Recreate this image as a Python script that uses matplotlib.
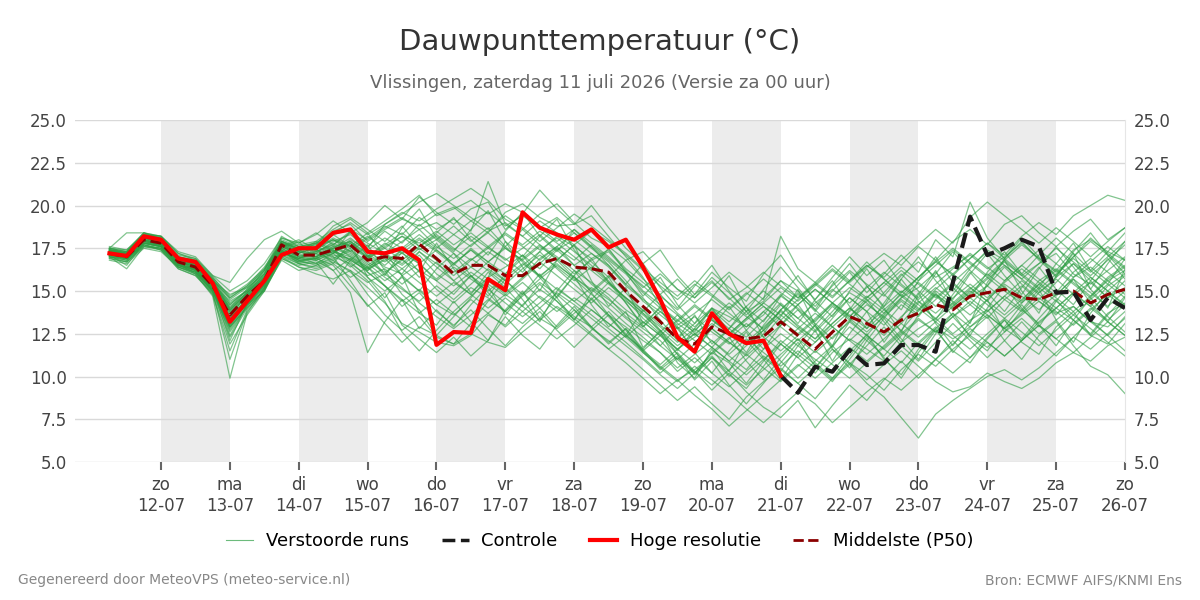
import numpy as np
import pandas as pd
import matplotlib
matplotlib.use("Agg")
import matplotlib.pyplot as plt
from matplotlib.lines import Line2D

# ----------------------------------------------------------------------
#  Data (dew point, deg C), 6-hourly from 11-07 06 UTC
# ----------------------------------------------------------------------
times = pd.date_range("2026-07-11 06:00", periods=60, freq="6h")

hres = [17.2, 17.05, 18.2, 18.0, 16.9, 16.7, 15.45, 13.2, 14.4, 15.6,
        17.1, 17.5, 17.5, 18.4, 18.6, 17.3, 17.2, 17.5, 16.8, 11.85,
        12.6, 12.55, 15.7, 15.05, 19.6, 18.7, 18.3, 18.0, 18.6, 17.55,
        18.0, 16.4, 14.5, 12.3, 11.45, 13.7, 12.5, 11.95, 12.1, 10.05]

controle = [10.05, 9.05, 10.57, 10.28, 11.55, 10.67, 10.77, 11.84, 11.84, 11.45,
            15.5, 19.35, 17.1, 17.5, 18.0, 17.6, 14.9, 14.96, 13.3, 14.6, 14.0]

p50 = [17.2, 17.0, 18.0, 17.8, 16.7, 16.4, 15.3, 13.6, 14.7, 15.6,
       17.7, 17.1, 17.1, 17.4, 17.7, 16.8, 17.0, 16.9, 17.75, 16.9,
       16.0, 16.5, 16.5, 15.9, 15.9, 16.6, 16.9, 16.4, 16.3, 16.1,
       15.0, 14.1, 13.2, 12.2, 11.9, 12.9, 12.5, 12.2, 12.35, 13.2,
       12.4, 11.6, 12.6, 13.5, 13.1, 12.6, 13.3, 13.7, 14.2, 13.9,
       14.7, 14.9, 15.1, 14.6, 14.5, 14.9, 15.0, 14.3, 14.8, 15.1]

members = [
    [17.4, 17.2, 18.3, 18.1, 17.0, 16.8, 15.6, 13.9, 14.9, 16.0,
     17.9, 17.6, 17.8, 18.5, 18.9, 17.9, 18.6, 19.2, 18.8, 19.5,
     19.9, 19.1, 18.4, 19.6, 20.1, 19.3, 18.8, 18.9, 19.4, 18.2,
     17.0, 15.8, 14.1, 13.3, 12.6, 14.0, 13.5, 12.9, 13.6, 14.8,
     13.9, 12.7, 13.8, 14.9, 14.3, 13.4, 14.6, 15.2, 16.1, 15.0,
     16.3, 17.4, 16.8, 15.9, 16.6, 17.2, 16.0, 15.4, 16.2, 17.0],
    [17.0, 16.3, 17.6, 17.5, 16.4, 16.0, 14.7, 9.9, 13.7, 15.2,
     17.4, 16.6, 16.4, 16.8, 16.1, 15.2, 14.3, 13.1, 12.6, 12.0,
     11.8, 12.4, 13.6, 13.0, 14.2, 15.1, 14.4, 13.5, 12.9, 13.8,
     12.7, 11.4, 10.6, 9.8, 10.4, 11.2, 10.1, 9.3, 10.6, 11.9,
     11.1, 10.2, 11.4, 12.2, 11.6, 10.9, 12.0, 12.8, 13.4, 12.5,
     13.3, 13.9, 12.8, 13.6, 14.4, 13.7, 14.1, 13.2, 12.9, 13.8],
    [17.3, 17.1, 18.1, 17.9, 16.9, 16.5, 15.5, 13.4, 14.6, 15.7,
     17.6, 17.3, 17.2, 17.9, 18.3, 17.5, 18.9, 19.6, 19.1, 19.8,
     20.4, 21.0, 20.3, 19.2, 18.6, 19.5, 20.1, 19.0, 18.1, 17.6,
     16.8, 17.3, 16.2, 15.1, 14.6, 15.8, 14.9, 13.8, 14.4, 15.6,
     15.0, 14.1, 15.3, 16.2, 15.4, 14.7, 15.9, 16.7, 15.8, 16.4,
     17.1, 16.3, 17.0, 17.8, 16.9, 16.2, 17.4, 18.0, 17.3, 16.8],
    [17.5, 17.3, 18.4, 18.0, 16.8, 16.2, 15.1, 12.8, 14.3, 15.3,
     17.3, 16.8, 16.9, 16.5, 15.3, 14.2, 13.1, 12.0, 12.9, 12.4,
     13.5, 14.6, 15.8, 16.4, 17.1, 16.3, 17.4, 18.0, 17.2, 16.5,
     15.4, 14.6, 13.3, 12.1, 11.5, 12.8, 12.0, 11.3, 12.5, 13.9,
     12.9, 12.2, 13.4, 14.6, 13.8, 13.0, 14.2, 13.5, 14.8, 14.0,
     14.6, 15.3, 14.5, 13.8, 14.9, 15.7, 14.8, 14.1, 15.3, 16.0],
    [17.1, 16.9, 17.9, 17.7, 16.6, 16.6, 15.4, 14.1, 14.9, 15.9,
     17.9, 17.4, 17.5, 18.1, 17.6, 16.9, 17.5, 18.2, 17.4, 18.0,
     17.2, 16.4, 17.3, 16.6, 15.8, 16.9, 17.6, 16.5, 15.4, 14.6,
     13.5, 12.8, 12.1, 11.0, 10.2, 11.4, 10.8, 9.6, 10.9, 12.1,
     11.3, 10.5, 11.8, 12.9, 12.1, 11.2, 12.4, 13.3, 12.6, 13.5,
     14.2, 13.4, 14.5, 15.3, 14.4, 13.6, 14.8, 15.5, 14.6, 15.2],
    [17.4, 17.1, 18.0, 17.6, 16.5, 16.1, 15.0, 13.2, 14.5, 15.5,
     17.5, 17.0, 16.8, 17.2, 17.9, 17.1, 16.4, 16.0, 17.3, 16.6,
     15.9, 16.8, 17.5, 16.9, 16.1, 17.3, 18.2, 17.6, 16.9, 17.4,
     16.3, 15.5, 14.7, 13.9, 14.8, 15.6, 14.5, 15.2, 16.1, 15.3,
     14.6, 15.4, 16.3, 15.5, 16.4, 17.2, 16.5, 17.6, 16.8, 17.9,
     18.6, 17.7, 18.9, 19.4, 18.4, 17.6, 18.5, 19.2, 18.0, 18.7],
    [17.0, 16.8, 17.8, 17.6, 16.5, 16.3, 15.2, 13.0, 14.4, 15.4,
     17.2, 16.9, 17.4, 17.0, 16.6, 15.9, 16.3, 15.4, 16.2, 15.1,
     14.3, 15.2, 14.6, 13.8, 14.7, 15.5, 14.8, 13.9, 12.8, 12.1,
     11.3, 10.4, 9.5, 8.6, 9.4, 8.4, 7.5, 8.8, 9.7, 10.5,
     9.6, 8.7, 9.9, 10.8, 10.1, 9.2, 10.4, 11.3, 10.6, 11.6,
     12.4, 11.7, 12.6, 13.4, 12.5, 13.3, 14.1, 13.2, 12.4, 13.5],
    [17.3, 17.2, 18.2, 18.0, 16.9, 16.7, 15.7, 14.3, 15.0, 16.2,
     18.1, 17.7, 17.9, 18.6, 19.2, 18.4, 19.1, 19.8, 20.6, 19.4,
     19.8, 20.3, 19.5, 20.1, 19.6, 18.7, 19.3, 18.4, 17.5, 16.7,
     15.6, 14.4, 13.6, 12.8, 13.5, 12.6, 11.9, 12.7, 13.8, 12.9,
     12.1, 13.0, 14.1, 13.3, 12.4, 13.6, 14.5, 13.8, 15.0, 14.2,
     15.1, 16.0, 15.2, 14.4, 15.6, 16.3, 15.5, 14.7, 15.8, 16.5],
    [17.2, 16.9, 17.7, 17.4, 16.3, 15.9, 14.9, 12.3, 14.0, 15.1,
     17.0, 16.4, 16.0, 15.7, 16.2, 14.8, 13.6, 12.7, 13.5, 12.3,
     11.9, 12.5, 12.0, 11.7, 12.6, 13.4, 12.8, 13.7, 14.5, 13.6,
     12.9, 12.1, 11.4, 10.5, 11.3, 12.1, 11.2, 10.4, 11.6, 12.5,
     11.8, 11.0, 10.3, 11.5, 12.4, 11.6, 10.8, 12.0, 12.9, 12.2,
     12.9, 13.6, 12.8, 12.1, 13.2, 14.0, 13.3, 12.5, 13.7, 14.3],
    [17.6, 17.4, 18.3, 18.2, 17.1, 16.9, 15.8, 14.6, 15.3, 16.4,
     17.8, 17.5, 17.3, 17.7, 18.4, 17.8, 17.2, 17.9, 18.6, 17.6,
     16.9, 17.7, 18.4, 17.5, 16.8, 17.6, 16.9, 16.0, 16.8, 17.3,
     16.2, 15.0, 14.2, 13.1, 12.4, 13.4, 14.3, 13.5, 12.8, 13.9,
     14.8, 13.9, 12.9, 13.8, 14.7, 13.9, 13.1, 14.3, 15.2, 14.4,
     13.6, 14.5, 15.4, 14.7, 13.9, 14.8, 15.7, 14.9, 14.1, 15.0],
    [17.1, 17.0, 17.9, 17.8, 16.8, 16.4, 15.3, 13.5, 14.2, 15.0,
     16.9, 16.5, 16.7, 15.4, 16.8, 16.2, 17.1, 16.5, 17.3, 16.4,
     15.6, 16.4, 15.7, 14.9, 15.8, 16.7, 15.9, 15.1, 14.3, 15.2,
     14.4, 13.6, 12.7, 11.8, 12.5, 13.3, 12.6, 11.9, 12.7, 13.6,
     12.8, 12.0, 13.1, 14.0, 13.2, 12.4, 13.5, 14.4, 13.7, 14.6,
     15.4, 14.6, 15.5, 16.3, 15.5, 14.7, 15.8, 16.4, 15.6, 16.2],
    [17.3, 17.1, 18.1, 17.9, 16.8, 16.5, 15.4, 13.8, 14.8, 15.8,
     17.7, 17.2, 17.6, 18.0, 17.3, 18.1, 18.8, 18.3, 19.3, 18.6,
     19.2, 18.5, 21.4, 18.9, 18.2, 19.1, 18.4, 17.7, 18.5, 17.9,
     17.1, 16.2, 15.3, 14.5, 15.4, 14.7, 13.9, 14.8, 15.7, 14.9,
     14.2, 15.1, 14.3, 13.5, 14.6, 15.5, 14.7, 13.9, 15.1, 16.0,
     15.2, 14.4, 15.6, 16.5, 15.7, 14.9, 16.1, 16.9, 16.1, 15.3],
    [16.9, 16.7, 17.6, 17.5, 16.4, 16.1, 15.0, 12.6, 14.1, 15.2,
     17.1, 16.7, 16.6, 17.1, 16.9, 16.3, 16.8, 17.2, 16.6, 17.4,
     16.6, 15.8, 16.7, 17.5, 16.8, 15.9, 16.6, 15.7, 14.8, 14.0,
     13.1, 12.3, 11.4, 10.3, 11.1, 10.2, 9.4, 10.3, 11.2, 10.4,
     9.6, 10.5, 11.6, 10.8, 9.8, 10.7, 11.5, 10.6, 9.7, 9.1,
     9.4, 10.2, 9.7, 9.3, 9.9, 10.8, 11.4, 10.9, 11.8, 12.3],
    [17.4, 17.2, 18.2, 17.9, 16.7, 16.4, 15.3, 13.7, 14.7, 15.7,
     17.8, 17.3, 17.0, 17.6, 17.9, 16.9, 17.6, 18.2, 17.8, 18.5,
     17.7, 18.4, 17.6, 16.8, 17.5, 18.3, 17.4, 16.5, 17.2, 16.4,
     15.3, 14.5, 13.8, 13.0, 13.7, 14.5, 13.7, 12.9, 13.8, 14.7,
     14.0, 13.2, 14.3, 15.2, 14.5, 13.7, 14.9, 15.8, 16.7, 16.0,
     16.9, 17.8, 17.1, 18.2, 19.0, 18.3, 19.4, 20.0, 20.6, 20.3],
    [17.2, 17.0, 18.0, 17.7, 16.6, 16.2, 15.1, 12.1, 14.3, 15.5,
     17.5, 17.0, 17.3, 17.8, 17.3, 16.6, 15.8, 15.1, 14.4, 15.3,
     14.5, 15.4, 16.3, 15.6, 14.8, 15.7, 16.5, 15.8, 15.1, 14.3,
     13.4, 12.6, 11.8, 11.0, 11.9, 12.8, 12.0, 11.2, 12.1, 13.0,
     13.9, 13.1, 12.2, 13.3, 14.2, 13.5, 12.7, 13.9, 14.8, 14.1,
     14.9, 15.8, 15.0, 14.3, 15.4, 16.2, 15.4, 14.6, 15.7, 16.4],
    [17.3, 17.0, 17.9, 17.7, 16.7, 16.3, 15.2, 13.3, 14.6, 15.6,
     17.6, 17.1, 17.2, 17.6, 17.2, 16.5, 17.2, 16.6, 17.5, 16.8,
     16.1, 16.9, 16.2, 15.4, 16.3, 17.1, 16.4, 15.6, 16.4, 15.5,
     14.6, 13.7, 12.9, 12.0, 12.8, 12.1, 11.3, 12.2, 11.4, 10.6,
     11.5, 10.7, 9.8, 10.7, 9.6, 8.8, 7.6, 6.4, 7.8, 8.6,
     9.3, 10.0, 10.4, 9.8, 10.5, 11.4, 12.3, 11.6, 12.5, 13.4],
    [17.5, 17.3, 18.2, 18.1, 17.0, 16.6, 15.5, 14.0, 15.1, 16.1,
     17.9, 17.4, 17.1, 17.5, 18.1, 17.3, 16.7, 17.4, 18.1, 17.4,
     16.6, 17.4, 16.7, 16.0, 16.9, 17.7, 17.0, 16.2, 15.5, 14.8,
     13.9, 13.2, 12.4, 13.3, 14.2, 13.4, 12.5, 13.4, 14.3, 13.6,
     14.5, 15.4, 14.6, 15.6, 16.5, 15.8, 16.8, 17.7, 18.6, 17.8,
     19.3, 20.2, 19.4, 18.6, 17.8, 18.7, 17.9, 17.0, 17.9, 18.7],
    [17.0, 16.9, 17.8, 17.6, 16.6, 16.5, 15.5, 13.1, 14.5, 15.4,
     17.3, 16.8, 16.5, 16.9, 17.5, 16.1, 15.3, 14.4, 15.1, 14.2,
     13.6, 14.5, 13.7, 12.9, 13.8, 14.7, 14.0, 13.2, 12.4, 11.6,
     12.4, 11.5, 10.7, 11.6, 12.5, 11.7, 10.9, 11.8, 12.7, 11.9,
     12.8, 13.7, 12.9, 12.1, 13.0, 13.9, 14.8, 14.0, 13.2, 14.1,
     15.0, 14.2, 13.4, 14.3, 15.2, 14.4, 13.6, 14.5, 15.4, 14.6],
    [17.2, 17.1, 18.1, 17.8, 16.8, 16.6, 15.4, 14.4, 15.0, 15.9,
     17.7, 17.2, 17.8, 17.3, 18.0, 17.4, 18.1, 17.5, 18.3, 17.5,
     18.3, 17.6, 18.5, 19.0, 18.2, 17.4, 18.1, 17.3, 16.5, 15.6,
     14.5, 13.4, 12.5, 11.6, 12.3, 13.1, 12.4, 13.3, 14.1, 13.3,
     12.5, 13.4, 14.3, 13.6, 12.8, 13.7, 14.6, 15.5, 14.7, 13.9,
     14.8, 15.7, 16.5, 15.7, 14.9, 15.8, 16.6, 15.8, 15.0, 15.9],
    [17.3, 17.0, 18.0, 17.8, 16.7, 16.4, 15.3, 13.5, 14.8, 15.6,
     17.6, 17.1, 17.0, 17.4, 16.5, 15.6, 14.4, 12.6, 11.5, 12.7,
     13.8, 14.7, 15.6, 14.8, 15.7, 16.6, 17.5, 16.8, 17.7, 16.9,
     16.1, 15.3, 14.4, 13.6, 12.7, 13.6, 12.8, 12.0, 12.9, 13.8,
     13.0, 12.2, 13.1, 14.0, 13.2, 14.1, 15.0, 14.2, 13.4, 14.3,
     15.2, 14.4, 13.6, 14.5, 15.4, 14.6, 13.8, 14.7, 15.6, 14.8],
    [17.1, 16.9, 17.8, 17.7, 16.6, 16.2, 15.0, 12.9, 14.4, 15.4,
     17.4, 16.8, 16.9, 17.3, 17.0, 16.4, 17.0, 16.3, 17.1, 16.0,
     15.3, 16.1, 15.4, 14.7, 15.5, 14.6, 13.8, 14.6, 13.9, 13.1,
     12.3, 11.4, 10.5, 9.7, 10.6, 9.8, 9.0, 8.1, 7.3, 8.2,
     9.1, 8.4, 7.3, 8.2, 9.1, 9.9, 9.2, 10.1, 11.0, 10.2,
     11.1, 12.0, 11.2, 12.1, 13.0, 12.2, 11.4, 12.3, 13.2, 12.4],
    [17.4, 17.2, 18.1, 17.9, 16.8, 16.6, 15.6, 14.8, 15.2, 16.3,
     18.2, 17.6, 17.7, 18.3, 18.6, 18.0, 18.7, 19.3, 18.6, 19.0,
     18.3, 19.1, 19.6, 18.8, 19.4, 18.7, 17.9, 18.6, 17.8, 17.0,
     16.1, 15.2, 16.0, 15.1, 14.3, 15.2, 16.1, 15.3, 14.5, 18.2,
     16.3, 15.5, 14.7, 15.6, 16.5, 15.7, 14.9, 15.8, 16.7, 17.5,
     16.7, 15.9, 16.8, 17.7, 16.9, 16.1, 17.0, 17.9, 17.1, 16.3],
    [16.8, 16.6, 17.5, 17.3, 16.4, 16.0, 14.8, 11.5, 13.9, 15.1,
     17.0, 16.6, 16.3, 16.7, 16.2, 15.5, 16.0, 15.2, 14.3, 13.5,
     12.8, 13.6, 14.5, 13.8, 13.1, 14.0, 14.9, 14.2, 13.4, 12.6,
     11.8, 11.0, 10.1, 9.3, 10.2, 11.1, 10.3, 9.5, 10.4, 11.3,
     12.2, 11.4, 12.3, 13.2, 12.4, 11.6, 12.5, 13.4, 12.6, 13.5,
     14.4, 13.6, 12.8, 13.7, 14.6, 13.8, 13.0, 13.9, 14.8, 14.0],
    [17.5, 17.2, 18.2, 18.0, 16.9, 16.6, 15.5, 13.9, 14.9, 15.8,
     17.8, 17.4, 17.6, 17.2, 17.8, 17.0, 17.7, 18.4, 17.6, 18.2,
     17.4, 18.2, 17.5, 18.3, 17.6, 16.8, 17.6, 18.4, 17.6, 16.8,
     16.0, 14.9, 14.0, 13.2, 14.1, 13.3, 12.5, 13.4, 14.3, 15.2,
     14.4, 15.3, 16.2, 15.4, 14.6, 15.5, 16.4, 15.6, 16.5, 17.4,
     16.6, 15.8, 16.7, 15.9, 15.1, 16.0, 16.9, 16.1, 17.0, 17.9],
    [17.2, 17.1, 18.0, 17.7, 16.6, 16.3, 15.2, 12.4, 14.2, 15.3,
     17.3, 16.9, 17.2, 16.8, 17.4, 16.7, 16.1, 16.8, 16.2, 15.6,
     16.4, 15.7, 15.0, 15.8, 16.6, 15.9, 15.1, 14.4, 15.2, 14.5,
     13.7, 12.9, 13.8, 12.9, 12.1, 11.3, 12.2, 13.1, 12.3, 11.5,
     12.4, 13.3, 14.2, 13.4, 12.6, 13.5, 14.4, 13.6, 14.5, 15.4,
     14.6, 13.8, 14.7, 15.6, 14.8, 14.0, 14.9, 15.8, 15.0, 14.2],
    [17.1, 16.8, 17.7, 17.5, 16.5, 16.2, 15.1, 13.3, 14.5, 15.5,
     17.5, 16.9, 17.0, 17.5, 17.1, 16.4, 15.6, 16.3, 15.5, 14.7,
     15.5, 14.8, 14.0, 14.8, 14.1, 13.3, 14.1, 13.4, 12.5, 11.6,
     10.8, 9.9, 9.0, 9.8, 8.9, 8.1, 7.1, 8.0, 8.9, 9.8,
     10.7, 9.9, 10.8, 11.7, 10.9, 11.8, 12.7, 11.9, 12.8, 13.7,
     12.9, 13.8, 14.7, 13.9, 13.1, 14.0, 14.9, 14.1, 13.3, 14.2],
    [17.4, 17.3, 18.4, 18.1, 17.0, 16.8, 15.7, 14.5, 15.2, 16.0,
     17.9, 17.5, 17.4, 18.0, 17.5, 18.2, 17.5, 16.8, 17.6, 18.3,
     17.5, 16.8, 17.6, 18.4, 17.7, 18.5, 17.8, 17.0, 16.2, 15.4,
     14.6, 13.9, 13.0, 12.2, 13.1, 14.0, 13.2, 14.1, 15.0, 14.2,
     13.4, 14.3, 15.1, 14.3, 15.2, 16.1, 15.3, 14.5, 15.4, 16.3,
     17.2, 16.4, 15.6, 16.5, 17.4, 16.6, 15.8, 16.7, 17.6, 16.8],
    [17.0, 16.7, 17.7, 17.4, 16.4, 16.1, 15.0, 12.7, 14.2, 15.2,
     17.1, 16.6, 16.8, 16.2, 16.9, 16.1, 15.3, 14.5, 13.7, 14.5,
     13.7, 12.9, 13.7, 14.6, 13.8, 13.0, 12.2, 13.0, 13.9, 13.1,
     12.3, 13.2, 12.4, 11.6, 10.8, 11.7, 10.9, 10.1, 11.0, 11.9,
     11.1, 12.0, 12.9, 12.1, 11.3, 12.2, 13.1, 12.3, 13.2, 12.4,
     11.6, 12.5, 13.4, 12.6, 11.8, 12.7, 13.6, 12.8, 12.0, 11.2],
    [17.3, 17.2, 18.1, 17.9, 16.9, 16.7, 15.6, 14.2, 15.1, 16.2,
     18.0, 17.6, 17.8, 18.4, 19.0, 18.3, 18.9, 19.5, 20.2, 20.7,
     20.0, 19.3, 18.6, 19.4, 18.7, 17.9, 18.7, 19.5, 18.8, 18.0,
     17.2, 16.3, 15.5, 14.7, 15.6, 14.8, 14.0, 14.9, 14.1, 13.3,
     14.2, 15.1, 14.3, 13.5, 14.4, 15.3, 16.2, 15.4, 14.6, 15.5,
     16.4, 17.3, 16.5, 15.7, 16.6, 17.5, 16.7, 15.9, 16.8, 17.7],
    [17.2, 16.9, 17.8, 17.6, 16.5, 16.2, 15.1, 13.0, 14.3, 15.3,
     17.2, 16.7, 16.9, 17.3, 16.7, 15.8, 15.0, 15.8, 15.0, 14.2,
     15.0, 15.9, 15.1, 14.3, 13.5, 14.3, 15.2, 14.4, 13.6, 12.8,
     12.0, 11.1, 10.2, 11.1, 10.3, 9.5, 10.4, 11.3, 10.5, 9.7,
     10.6, 11.5, 10.7, 9.9, 10.8, 11.7, 12.6, 11.8, 11.0, 11.9,
     12.8, 12.0, 11.2, 12.1, 13.0, 12.2, 13.1, 14.0, 13.2, 12.4],
    [17.3, 17.1, 18.0, 17.8, 16.9, 16.5, 15.7, 14.0, 14.9, 15.8,
     17.5, 17.9, 16.8, 17.2, 18.5, 17.0, 15.9, 17.3, 16.1, 17.8,
     16.3, 14.9, 15.8, 17.9, 16.4, 15.0, 16.8, 17.7, 15.6, 14.1,
     15.2, 13.1, 14.0, 12.2, 13.6, 11.9, 12.8, 14.1, 12.3, 13.5,
     15.1, 13.0, 11.8, 13.9, 15.3, 14.0, 12.6, 14.8, 16.2, 14.3,
     13.1, 15.5, 16.8, 15.0, 13.7, 15.9, 17.2, 15.1, 14.0, 16.3],
    [17.1, 16.5, 17.8, 17.6, 16.5, 16.1, 14.9, 11.0, 13.8, 15.0,
     17.3, 16.9, 17.5, 16.6, 17.8, 15.8, 14.6, 15.9, 13.7, 13.0,
     14.4, 13.2, 12.1, 13.9, 15.0, 13.4, 14.7, 15.9, 14.2, 12.9,
     13.8, 11.7, 12.6, 10.8, 9.9, 11.6, 10.3, 12.1, 11.0, 9.8,
     11.3, 12.7, 10.9, 12.5, 13.8, 12.0, 13.4, 14.9, 13.1, 11.8,
     13.2, 14.5, 12.6, 13.9, 15.1, 13.3, 12.0, 13.7, 15.0, 14.1],
    [17.4, 17.3, 18.3, 18.2, 17.2, 16.9, 15.9, 15.5, 16.9, 18.0,
     18.5, 17.8, 18.3, 19.1, 18.4, 19.0, 20.0, 19.2, 20.5, 19.6,
     18.9, 19.8, 20.2, 18.6, 19.5, 20.9, 19.8, 18.9, 20.0, 18.7,
     17.5, 16.6, 17.4, 15.9, 14.8, 16.1, 15.2, 14.4, 16.0, 17.1,
     15.6, 14.5, 15.8, 17.0, 15.9, 16.8, 15.4, 14.6, 16.0, 17.3,
     16.2, 15.3, 16.9, 18.1, 17.0, 15.8, 17.3, 18.4, 17.1, 16.0],
    [17.2, 17.0, 17.9, 17.6, 16.6, 16.0, 15.0, 12.9, 14.0, 15.1,
     16.8, 16.2, 16.5, 17.0, 15.6, 14.1, 14.9, 13.0, 12.2, 11.4,
     12.3, 11.2, 12.1, 13.5, 12.4, 11.6, 13.0, 14.1, 12.9, 12.0,
     12.8, 11.5, 10.4, 11.2, 9.8, 10.9, 9.5, 8.4, 9.6, 10.8,
     12.0, 10.6, 9.7, 11.0, 12.3, 11.1, 9.9, 11.4, 12.7, 11.5,
     10.8, 12.2, 13.3, 12.0, 11.3, 12.9, 13.8, 12.4, 11.9, 13.1],
    [17.5, 17.4, 18.4, 18.2, 17.2, 16.8, 15.8, 14.7, 15.4, 16.3,
     17.6, 18.0, 17.4, 18.3, 17.6, 18.4, 17.0, 18.7, 19.8, 18.1,
     17.3, 18.6, 19.7, 17.9, 17.0, 18.2, 19.2, 17.4, 16.3, 17.5,
     16.1, 14.7, 15.8, 14.2, 13.1, 14.6, 15.9, 14.0, 13.2, 14.7,
     15.9, 14.4, 13.5, 15.0, 16.3, 14.8, 13.9, 15.6, 17.0, 15.5,
     14.6, 16.1, 17.3, 16.0, 15.2, 16.6, 17.8, 16.2, 15.4, 16.9],
    [17.1, 16.9, 17.8, 17.6, 16.7, 16.4, 15.4, 13.8, 14.7, 15.5,
     17.4, 16.7, 17.0, 16.2, 14.9, 11.4, 13.2, 14.5, 12.8, 13.9,
     12.9, 14.2, 15.3, 13.6, 14.8, 16.0, 14.6, 13.3, 14.9, 15.8,
     14.3, 13.0, 11.8, 12.9, 11.4, 10.2, 11.5, 12.6, 11.1, 10.3,
     11.8, 13.0, 11.6, 10.5, 12.1, 13.4, 12.2, 11.0, 12.5, 13.7,
     12.3, 11.5, 12.9, 14.2, 13.0, 11.8, 13.3, 14.6, 13.5, 12.6],
    [17.3, 17.2, 18.1, 17.9, 16.8, 16.6, 15.5, 14.2, 15.0, 16.0,
     17.8, 17.3, 17.9, 17.4, 16.8, 17.7, 16.2, 14.8, 13.9, 12.4,
     11.9, 13.1, 14.4, 15.7, 14.5, 13.2, 15.0, 16.2, 14.9, 13.6,
     12.4, 13.9, 12.7, 11.5, 12.8, 14.0, 12.6, 11.4, 13.0, 14.2,
     13.1, 14.5, 15.6, 14.1, 12.8, 14.3, 15.7, 14.4, 13.3, 14.8,
     16.1, 14.9, 13.8, 15.2, 16.4, 15.1, 14.2, 15.6, 16.9, 15.7],
    [17.0, 16.8, 17.7, 17.5, 16.6, 16.3, 15.2, 13.4, 14.6, 15.5,
     17.4, 17.0, 16.6, 17.2, 16.4, 17.1, 16.0, 16.9, 15.8, 16.7,
     15.6, 14.8, 16.1, 15.2, 14.1, 15.4, 14.4, 13.3, 14.6, 13.5,
     12.4, 11.6, 12.7, 11.3, 10.2, 11.4, 12.3, 10.9, 9.8, 11.1,
     12.2, 10.8, 9.9, 11.2, 12.5, 11.0, 10.1, 11.6, 12.8, 11.4,
     12.6, 13.5, 12.1, 11.0, 12.4, 13.2, 11.8, 10.6, 10.1, 9.0],
    [17.4, 17.2, 18.2, 18.0, 17.0, 16.7, 15.6, 14.6, 15.3, 16.2,
     17.9, 17.5, 17.7, 18.8, 19.3, 18.6, 17.9, 18.8, 17.6, 18.4,
     19.3, 18.0, 17.1, 18.5, 19.6, 18.2, 17.3, 18.6, 17.6, 16.5,
     15.4, 16.6, 15.2, 14.0, 15.3, 16.5, 15.0, 13.8, 15.1, 16.4,
     15.2, 13.9, 15.4, 16.6, 15.3, 14.1, 15.7, 17.0, 15.6, 14.5,
     16.0, 17.2, 15.9, 14.8, 16.3, 17.6, 16.4, 15.1, 16.6, 17.9],
    [17.2, 16.9, 17.9, 17.7, 16.5, 16.3, 15.3, 12.9, 14.1, 15.4,
     17.3, 16.9, 17.3, 17.7, 17.0, 16.3, 17.3, 15.9, 15.0, 16.3,
     17.2, 15.9, 14.7, 16.0, 17.1, 15.8, 14.6, 15.9, 16.9, 15.5,
     14.3, 12.9, 14.1, 12.8, 11.5, 12.9, 14.1, 12.7, 11.6, 13.0,
     14.2, 12.9, 11.7, 13.2, 14.5, 13.2, 12.0, 13.6, 14.9, 13.5,
     12.4, 14.0, 15.3, 14.0, 12.9, 14.4, 15.7, 14.3, 13.2, 14.6],
    [17.1, 16.9, 17.8, 17.6, 16.6, 16.2, 15.1, 13.1, 14.4, 15.4,
     17.3, 16.8, 16.9, 17.4, 16.8, 16.2, 16.9, 15.9, 16.6, 15.6,
     14.8, 15.9, 14.9, 13.8, 14.9, 14.0, 12.9, 13.9, 12.9, 11.9,
     12.8, 11.6, 10.5, 11.4, 10.3, 9.2, 10.2, 9.1, 8.2, 7.6,
     8.6, 7.0, 8.3, 9.5, 8.6, 9.8, 10.9, 9.9, 11.0, 12.1,
     11.1, 12.3, 13.3, 12.2, 13.4, 14.5, 13.3, 12.4, 13.6, 14.7],
    [17.3, 17.1, 18.0, 17.8, 16.7, 16.5, 15.4, 13.9, 14.8, 15.7,
     17.6, 17.2, 17.5, 18.0, 17.6, 17.0, 17.8, 17.2, 18.0, 17.3,
     16.5, 17.5, 16.7, 17.6, 16.7, 15.8, 16.8, 15.8, 15.0, 15.9,
     14.9, 13.8, 14.8, 13.7, 12.9, 13.9, 13.0, 12.3, 13.3, 14.3,
     13.4, 12.6, 13.6, 14.6, 13.8, 14.9, 16.0, 15.0, 14.1, 15.2,
     14.2, 15.3, 16.4, 15.4, 14.5, 15.5, 16.6, 15.6, 14.6, 15.6],
    [17.4, 17.2, 18.1, 17.9, 16.9, 16.6, 15.5, 13.6, 14.7, 15.8,
     17.7, 17.3, 17.0, 17.5, 17.9, 17.2, 16.5, 17.4, 16.6, 15.7,
     16.6, 17.4, 16.5, 15.6, 16.5, 17.3, 16.3, 15.4, 14.5, 15.5,
     14.6, 13.7, 12.6, 13.6, 12.5, 11.7, 12.8, 13.8, 12.7, 13.9,
     14.9, 13.8, 15.0, 16.1, 14.9, 16.0, 17.1, 16.1, 18.0, 17.0,
     20.2, 18.1, 16.9, 17.9, 16.8, 15.9, 17.0, 18.1, 17.2, 16.4],
    [17.5, 18.4, 18.4, 18.2, 17.3, 17.0, 15.9, 15.0, 15.6, 16.6,
     18.1, 17.8, 18.4, 17.7, 18.5, 17.6, 18.5, 17.8, 18.9, 18.0,
     18.8, 17.9, 18.7, 17.6, 18.6, 17.7, 16.8, 17.7, 16.7, 15.8,
     16.8, 15.7, 14.8, 15.7, 14.6, 15.5, 14.6, 13.6, 14.6, 15.6,
     14.6, 15.5, 16.5, 15.6, 16.7, 15.7, 14.7, 15.8, 16.8, 15.9,
     16.9, 17.8, 16.9, 16.0, 17.1, 18.1, 17.2, 16.2, 17.3, 18.4],
    [16.9, 16.7, 17.6, 17.4, 16.3, 15.9, 14.8, 11.9, 13.6, 15.0,
     16.9, 16.4, 16.2, 16.6, 15.8, 16.4, 15.3, 14.1, 14.9, 13.8,
     13.0, 13.9, 12.8, 11.8, 12.9, 13.8, 12.7, 11.7, 12.7, 13.6,
     12.5, 11.5, 12.4, 11.3, 10.1, 11.1, 10.0, 11.0, 12.0, 10.9,
     9.9, 10.9, 11.8, 10.7, 11.8, 12.9, 11.8, 10.9, 12.0, 13.1,
     12.1, 11.1, 12.1, 13.2, 12.1, 11.2, 12.3, 13.3, 12.4, 11.5],
]

day_labels = ["zo", "ma", "di", "wo", "do", "vr", "za", "zo",
              "ma", "di", "wo", "do", "vr", "za", "zo"]
day_dates = pd.date_range("2026-07-12", "2026-07-26", freq="D")

title = "Dauwpunttemperatuur (°C)"
subtitle = "Vlissingen, zaterdag 11 juli 2026 (Versie za 00 uur)"

# ----------------------------------------------------------------------
#  Plot
# ----------------------------------------------------------------------
fig = plt.figure(figsize=(12, 6), dpi=100)
ax = fig.add_axes([0.0625, 0.23, 0.875, 0.57])

# shaded alternate days
for d in day_dates[::2][:-1]:
    ax.axvspan(d, d + pd.Timedelta(days=1), color="#ececec", lw=0, zorder=0)

for m in members:
    ax.plot(times, m, color="#2e9e44", lw=0.9, alpha=0.6, zorder=2)

ax.plot(times[:len(p50)], p50, color="#8b0000", lw=2.2, ls="--", zorder=3)
ax.plot(times[len(hres) - 1:], controle, color="#1a1a1a", lw=3, ls="--", zorder=4)
ax.plot(times[:len(hres)], hres, color="red", lw=3, zorder=5)

ax.set_ylim(5, 25)
ax.set_yticks(np.arange(5, 25.1, 2.5))
ax.yaxis.set_major_formatter(matplotlib.ticker.FormatStrFormatter("%.1f"))
ax.set_xlim(pd.Timestamp("2026-07-10 18:00"), pd.Timestamp("2026-07-26 00:00"))
ax.set_xticks(day_dates)
ax.set_xticklabels([f"{w}\n{d.strftime('%d-%m')}" for w, d in zip(day_labels, day_dates)])

ax.grid(axis="y", color="#d9d9d9", lw=1)
ax.set_axisbelow(True)
for s in ["left", "top", "bottom"]:
    ax.spines[s].set_visible(False)
ax.spines["right"].set_color("#e6e6e6")

ax.tick_params(axis="x", length=6, width=1.5, color="#666666", labelsize=12,
               labelcolor="#444444", pad=4)
ax.tick_params(axis="y", length=0, labelsize=12, labelcolor="#444444",
               left=True, right=True, labelleft=True, labelright=True, pad=6)

fig.text(0.5, 0.93, title, ha="center", va="center", fontsize=21, color="#333333")
fig.text(0.5, 0.862, subtitle, ha="center", va="center", fontsize=13, color="#666666")

handles = [
    Line2D([], [], color="#2e9e44", lw=0.8, alpha=0.7),
    Line2D([], [], color="#1a1a1a", lw=2.5, ls="--"),
    Line2D([], [], color="red", lw=3),
    Line2D([], [], color="#8b0000", lw=2, ls="--"),
]
labels = ["Verstoorde runs", "Controle", "Hoge resolutie", "Middelste (P50)"]
fig.legend(handles, labels, loc="center", bbox_to_anchor=(0.5, 0.098), ncol=4,
           frameon=False, fontsize=13, handlelength=1.5, handletextpad=0.7,
           columnspacing=1.8)

fig.text(0.015, 0.033, "Gegenereerd door MeteoVPS (meteo-service.nl)", ha="left",
         va="center", fontsize=10, color="#888888")
fig.text(0.985, 0.033, "Bron: ECMWF AIFS/KNMI Ens", ha="right", va="center",
         fontsize=10, color="#888888")

fig.savefig("out.png", dpi=100)
